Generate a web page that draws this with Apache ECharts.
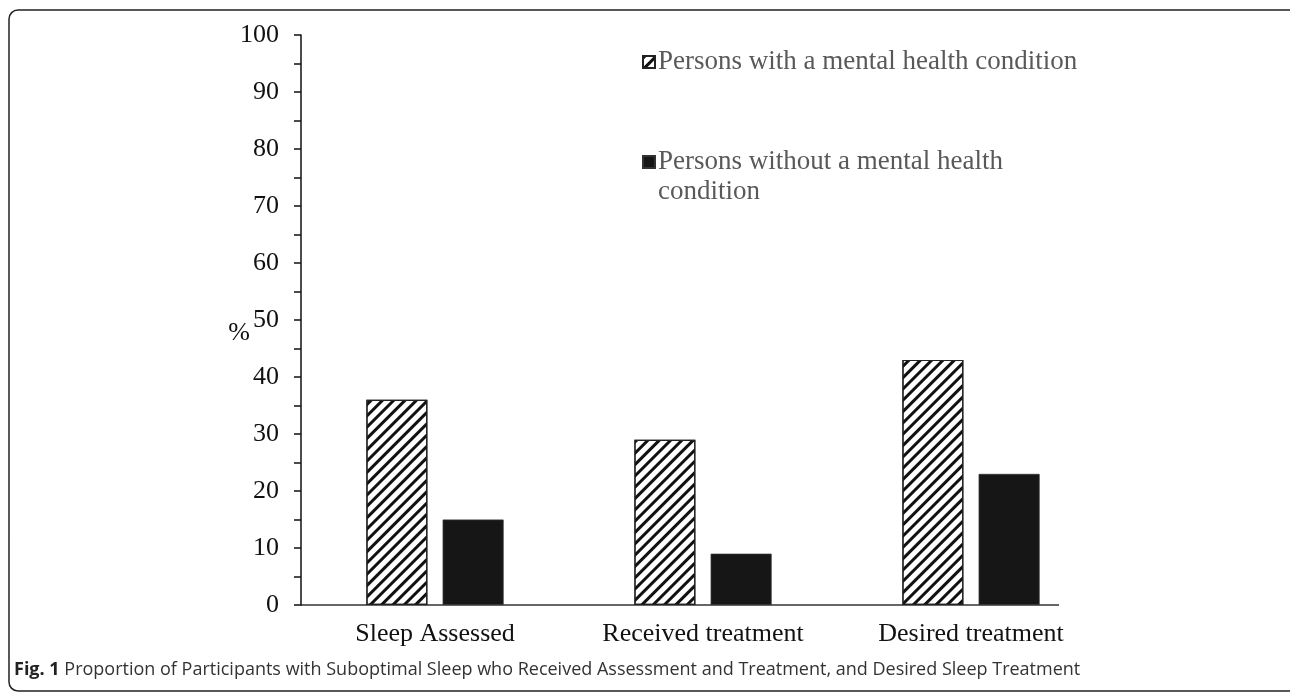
<!DOCTYPE html>
<html>
<head>
<meta charset="utf-8">
<script src="https://cdn.jsdelivr.net/npm/echarts@6/dist/echarts.min.js"></script>
<style>
  html, body { margin: 0; padding: 0; background: #fff; }
  #chart { width: 1290px; height: 693px; }
</style>
</head>
<body>
<div id="chart"></div>
<script>
const categories = ['Sleep Assessed', 'Received treatment', 'Desired treatment'];
const withCondition = [36, 29, 43];
const withoutCondition = [15, 9, 23];
const seriesNames = ['Persons with a mental health condition', 'Persons without a mental health condition'];
const caption = 'Proportion of Participants with Suboptimal Sleep who Received Assessment and Treatment, and Desired Sleep Treatment';

const chart = echarts.init(document.getElementById('chart'));

const serif = '"Liberation Serif", "Times New Roman", serif';

chart.setOption({
  backgroundColor: '#fff',
  animation: false,
  grid: { left: 301, right: 185, top: 35, bottom: 88 },
  legend: {
    orient: 'vertical',
    left: 637,
    top: 42,
    itemGap: 40,
    itemWidth: 12,
    itemHeight: 12,
    icon: 'rect',
    selectedMode: false,
    textStyle: { fontFamily: serif, fontSize: 27, color: '#595959', lineHeight: 30, padding: [0, 0, 0, -2] },
    // blank first line keeps the icon level with the first line of the wrapped name
    formatter: (name) => name === seriesNames[1] ? ' \nPersons without a mental health\ncondition' : name,
    data: seriesNames,
  },
  xAxis: {
    type: 'category',
    data: categories,
    axisLine: { show: false },
    axisTick: { show: false },
    axisLabel: { color: '#111', fontFamily: serif, fontSize: 26, margin: 16 },
  },
  yAxis: {
    type: 'value',
    min: 0,
    max: 100,
    interval: 10,
    name: '%',
    nameLocation: 'middle',
    nameRotate: 0,
    nameGap: 51,
    nameMoveOverlap: false,
    nameTextStyle: { color: '#111', fontFamily: serif, fontSize: 26, verticalAlign: 'top' },
    axisLine: { show: true, lineStyle: { color: '#111', width: 1.5 } },
    axisTick: { show: true, inside: false, length: 7, lineStyle: { color: '#111', width: 1.5 } },
    minorTick: { show: true, splitNumber: 2, length: 7, lineStyle: { color: '#111', width: 1.5 } },
    splitLine: { show: false },
    axisLabel: { color: '#111', fontFamily: serif, fontSize: 26, margin: 22 },
  },
  series: [
    {
      name: seriesNames[0],
      type: 'bar',
      data: withCondition,
      barWidth: 61,
      barGap: '25%',
      itemStyle: {
        color: '#fff',
        borderColor: '#222',
        borderWidth: 1.2,
        decal: {
          symbol: 'rect',
          symbolSize: 1,
          color: '#111',
          dashArrayX: [1, 0],
          dashArrayY: [3, 5],
          rotation: -Math.PI / 4,
        },
      },
    },
    {
      name: seriesNames[1],
      type: 'bar',
      data: withoutCondition,
      barWidth: 61,
      barGap: '25%',
      itemStyle: { color: '#161616', borderColor: '#333', borderWidth: 0.8 },
    },
  ],
});

// x axis line stops short of the last band, like the original figure
const zeroY = chart.convertToPixel({ yAxisIndex: 0 }, 0);
chart.setOption({
  graphic: [
    {
      type: 'rect',
      shape: { x: 9, y: 10, width: 1300, height: 681, r: 9 },
      style: { fill: 'none', stroke: '#222', lineWidth: 1.5 },
      silent: true,
    },
    {
      type: 'line',
      shape: { x1: 301, y1: zeroY, x2: 1059, y2: zeroY },
      style: { stroke: '#333', lineWidth: 1.5 },
      silent: true,
    },
    {
      type: 'text',
      left: 14,
      top: 661,
      style: {
        text: '{b|Fig. 1} ' + caption,
        font: '18px "Open Sans", sans-serif',
        fill: '#333',
        rich: {
          b: { fontFamily: '"Open Sans", sans-serif', fontSize: 18, fontWeight: 'bold', fill: '#222' },
        },
      },
    },
  ],
});

window.addEventListener('resize', () => chart.resize());
</script>
</body>
</html>
